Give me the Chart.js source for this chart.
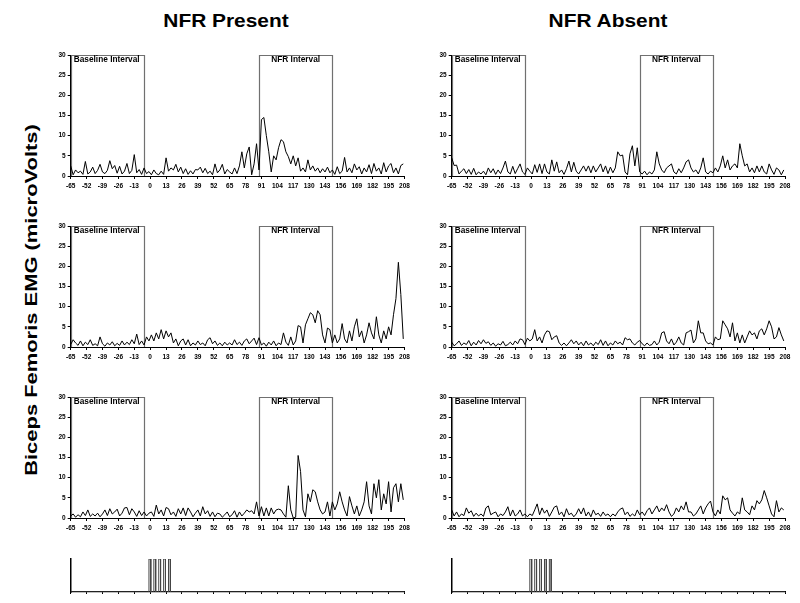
<!DOCTYPE html>
<html>
<head>
<meta charset="utf-8">
<script src="https://cdn.jsdelivr.net/npm/chart.js@4.4.1/dist/chart.umd.min.js"></script>
<style>
    html, body { margin: 0; padding: 0; background: #fff; }
    #page { position: relative; width: 800px; height: 603px; overflow: hidden; font-family: "Liberation Sans", Arial, sans-serif; color: #000; }
    #page canvas { position: absolute; }
    .title { position: absolute; top: 10.6px; font-weight: bold; font-size: 19px; line-height: 19px; white-space: nowrap; transform: translateX(-50%) scaleX(1.1); }
    #ytitle { position: absolute; left: 32.2px; top: 300px; font-weight: bold; font-size: 16px; line-height: 16px; white-space: nowrap; transform: translate(-50%, -50%) rotate(-90deg) scaleX(1.37); }
</style>
</head>
<body>
<div id="page">
    <div class="title" style="left:226px">NFR Present</div>
    <div class="title" style="left:607.5px">NFR Absent</div>
    <div id="ytitle">Biceps Femoris EMG (microVolts)</div>

    <canvas id="pTop" width="380" height="150" style="left:40px; top:45px"></canvas>
    <canvas id="aTop" width="379" height="150" style="left:421px; top:45px"></canvas>
    <canvas id="pMid" width="380" height="150" style="left:40px; top:216px"></canvas>
    <canvas id="aMid" width="379" height="150" style="left:421px; top:216px"></canvas>
    <canvas id="pBot" width="380" height="150" style="left:40px; top:387px"></canvas>
    <canvas id="aBot" width="379" height="150" style="left:421px; top:387px"></canvas>
    <canvas id="pStim" width="380" height="58" style="left:40px; top:545px"></canvas>
    <canvas id="aStim" width="379" height="58" style="left:421px; top:545px"></canvas>
</div>

<script>
// ====== Data ======
// samples every 2 units, starting at -65
const sampleStart = -65;
const sampleStep = 2;

const xRange = [-65, 208];
const xTickStep = 13;
const yRange = [0, 30];
const yTickStep = 5;

const baselineInterval = [-65, -5];
const nfrInterval = [89, 149];
const intervalLabels = ['Baseline Interval', 'NFR Interval'];

// NFR present, top
const presentTop = [
    2.5, 0.3, 1.5, 0.8, 1.2, 0.4, 3.6, 0.5, 1.0, 2.2, 0.6, 1.4, 2.9,
    1.0, 0.6, 1.4, 3.8, 1.8, 2.6, 0.7, 2.4, 0.5, 1.2, 3.1, 0.6, 1.4,
    5.3, 0.8, 1.6, 0.4, 2.0, 0.6, 1.1, 0.3, 1.5, 0.6, 0.3, 1.2, 0.4,
    4.5, 1.2, 2.0, 1.5, 2.9, 1.0, 2.2, 0.6, 1.8, 0.4, 1.3, 0.5, 1.6,
    1.5, 2.2, 0.8, 1.9, 0.6, 1.2, 0.3, 3.0, 0.8, 1.5, 2.9, 0.5, 1.6,
    1.0, 0.5, 2.0, 0.6, 2.5, 6.0, 2.0, 5.5, 7.2, 0.3, 3.0, 8.0, 1.5,
    14.0, 14.5, 10.0, 6.0, 1.0, 5.0, 4.0, 7.0, 9.0, 8.5, 6.0, 4.8, 3.0,
    5.0, 2.5, 4.5, 1.2, 2.0, 1.0, 4.0, 1.5, 2.5, 1.2, 2.0, 0.8, 1.8,
    1.0, 2.2, 0.8, 1.5, 0.4, 2.3, 0.6, 1.2, 4.6, 1.0, 2.0, 0.8, 3.0,
    1.5, 2.3, 0.5, 2.0, 1.0, 2.8, 0.6, 3.1, 1.2, 2.0, 0.5, 3.3, 1.0,
    2.5, 3.1, 0.8, 2.0, 0.5, 2.6, 3.0
];

// NFR absent, top
const absentTop = [
    4.5, 2.6, 2.7, 0.5, 1.2, 1.8, 0.6, 1.6, 0.4, 1.9, 0.3, 1.0, 0.5,
    1.2, 0.3, 2.0, 0.8, 1.8, 0.4, 1.5, 0.6, 2.0, 3.7, 1.0, 0.5, 2.4,
    0.6, 1.8, 3.0, 1.0, 0.4, 2.0, 1.2, 0.5, 2.8, 0.9, 3.0, 0.6, 3.0,
    1.0, 0.5, 4.0, 1.2, 3.5, 0.8, 1.5, 0.4, 1.8, 3.7, 1.0, 3.4, 1.2,
    0.5, 1.5, 2.5, 1.2, 2.5, 0.8, 2.5, 1.0, 2.0, 3.0, 1.0, 2.5, 0.6,
    2.2, 0.8, 2.0, 6.0, 5.0, 5.2, 1.0, 0.3, 5.5, 7.5, 2.5, 7.0, 1.0,
    0.5, 1.2, 0.3, 1.0, 0.5, 1.5, 6.0, 3.0, 1.5, 0.8, 2.0, 2.5, 3.0,
    1.0, 0.5, 1.8, 0.8, 2.0, 3.5, 4.0, 2.0, 1.0, 1.5, 0.5, 2.0, 4.5,
    1.0, 0.5, 1.2, 0.8, 2.0, 1.0, 2.5, 5.0, 2.0, 4.0, 1.5, 2.5, 3.0,
    2.0, 8.0, 5.0, 2.5, 3.0, 1.0, 2.0, 0.8, 2.5, 1.0, 2.5, 1.0, 0.5,
    3.0, 1.5, 0.4, 2.0, 1.5, 0.3, 1.5
];

// NFR present, middle
const presentMid = [
    0.6, 1.8, 1.0, 0.4, 1.5, 0.3, 1.2, 0.6, 1.8, 0.4, 0.8, 0.3, 2.5,
    0.8, 0.2, 1.0, 0.5, 1.3, 0.3, 0.9, 0.4, 1.5, 0.5, 1.2, 0.6, 1.8,
    0.8, 3.2, 0.6, 1.5, 0.5, 2.5, 1.5, 3.0, 1.5, 3.5, 2.0, 4.3, 2.0,
    4.0, 2.5, 3.5, 1.0, 2.0, 0.3, 1.5, 2.0, 0.5, 1.8, 0.3, 1.0, 0.5,
    1.5, 0.6, 1.0, 0.3, 1.8, 2.3, 0.8, 1.5, 0.4, 1.0, 0.3, 1.2, 0.5,
    1.0, 0.5, 1.8, 0.6, 1.2, 0.4, 1.5, 2.0, 0.8, 1.5, 2.2, 0.6, 2.3,
    0.5, 1.0, 0.2, 1.2, 0.5, 1.5, 0.3, 1.0, 0.6, 3.5, 1.2, 0.4, 2.5,
    0.5, 1.5, 5.3, 5.0, 1.0, 5.5, 7.0, 8.5, 8.0, 6.0, 9.0, 8.0, 3.0,
    1.0, 4.7, 4.3, 1.0, 3.0, 1.0, 2.0, 5.8, 2.0, 1.0, 4.0, 1.5, 5.0,
    7.0, 2.5, 4.0, 1.0, 3.0, 6.0, 3.5, 2.0, 7.5, 3.0, 1.0, 4.0, 2.0,
    5.0, 3.0, 8.0, 12.0, 21.0, 13.0, 2.0
];

// NFR absent, middle
const absentMid = [
    1.2, 0.3, 0.8, 1.5, 0.4, 1.0, 0.6, 1.6, 0.3, 1.2, 0.5, 1.6, 0.8,
    1.8, 0.9, 1.3, 0.4, 1.0, 0.2, 0.8, 0.5, 1.4, 0.3, 0.6, 1.2, 0.5,
    1.5, 0.8, 2.0, 1.8, 0.6, 2.2, 1.5, 2.0, 4.3, 1.5, 2.5, 1.0, 3.0,
    4.0, 3.8, 1.8, 2.5, 2.8, 1.0, 0.4, 1.0, 0.3, 1.0, 1.8, 0.8, 1.5,
    0.5, 1.2, 0.3, 1.5, 0.5, 1.0, 0.3, 1.2, 0.6, 1.8, 0.4, 1.5, 0.3,
    1.0, 0.5, 1.5, 0.8, 1.2, 0.5, 2.3, 1.8, 2.0, 1.0, 0.5, 1.2, 1.6,
    0.8, 0.3, 1.0, 0.4, 0.6, 1.5, 0.5, 1.2, 3.5, 3.8, 1.5, 0.8, 2.0,
    0.5, 1.2, 2.5, 1.0, 0.5, 3.5, 3.8, 4.2, 1.0, 2.0, 6.5, 3.5, 3.5,
    1.5, 0.8, 1.0, 0.5, 2.5, 1.8, 2.0, 6.5, 5.5, 4.5, 2.5, 6.0, 1.5,
    3.5, 1.0, 3.0, 1.0, 2.5, 4.0, 3.0, 3.5, 2.0, 4.0, 4.5, 3.0, 4.5,
    6.5, 5.0, 2.0, 2.5, 4.8, 3.0, 1.5
];

// NFR present, bottom
const presentBot = [
    0.5, 1.0, 0.2, 0.8, 0.3, 1.5, 0.6, 2.0, 0.4, 1.0, 0.5, 1.2, 0.3,
    1.0, 2.0, 0.6, 2.3, 1.0, 1.5, 2.2, 0.5, 1.2, 2.5, 2.6, 0.8, 2.3,
    1.5, 0.4, 1.8, 0.6, 1.5, 0.5, 1.2, 1.5, 0.4, 3.2, 1.0, 2.0, 0.5,
    2.6, 2.3, 0.8, 1.5, 0.4, 2.3, 1.0, 2.5, 0.6, 2.5, 1.5, 0.3, 1.2,
    2.0, 0.5, 2.8, 1.0, 1.8, 0.4, 1.5, 0.3, 1.2, 1.0, 0.2, 0.8, 1.5,
    0.3, 0.8, 1.8, 0.2, 1.5, 0.5, 1.2, 2.0, 1.5, 1.8, 1.0, 4.0, 0.5,
    2.8, 0.5, 2.5, 0.5, 2.5, 1.0, 2.0, 2.2, 2.0, 1.0, 0.2, 8.0, 2.0,
    0.0, 0.2, 15.5, 11.5, 2.0, 0.3, 6.0, 4.0, 7.0, 6.5, 4.0, 2.0, 1.0,
    1.5, 4.0, 0.5, 4.0, 2.0, 3.5, 6.5, 4.0, 2.0, 0.5, 5.3, 3.0, 1.0,
    3.0, 0.5, 2.0, 4.0, 9.0, 3.0, 1.0, 8.5, 5.0, 9.5, 2.0, 6.0, 3.5,
    9.0, 1.5, 7.5, 8.5, 4.0, 8.5, 4.5
];

// NFR absent, bottom
const absentBot = [
    2.0, 0.5, 1.5, 0.3, 1.0, 0.6, 2.5, 1.2, 1.8, 0.4, 1.2, 0.5, 1.0,
    0.4, 2.5, 3.0, 0.8, 1.2, 1.5, 0.3, 1.0, 0.6, 1.5, 2.8, 0.5, 2.0,
    0.5, 1.0, 2.0, 0.5, 1.0, 0.3, 1.0, 0.6, 2.0, 3.5, 0.8, 2.5, 1.2,
    2.0, 0.4, 1.5, 2.7, 3.0, 0.8, 1.5, 0.3, 2.3, 0.8, 1.2, 0.3, 1.0,
    2.3, 1.0, 2.5, 0.5, 1.5, 0.3, 2.0, 0.8, 1.2, 0.4, 1.5, 0.6, 1.0,
    0.3, 1.0, 0.5, 1.5, 2.2, 2.5, 0.8, 1.5, 0.4, 1.0, 0.5, 2.0, 0.8,
    1.5, 0.6, 1.8, 2.5, 1.0, 2.0, 3.0, 1.5, 2.5, 1.8, 3.3, 1.5, 0.4,
    1.0, 2.5, 1.5, 3.0, 2.0, 4.0, 1.5, 1.5, 0.5, 1.0, 2.0, 3.0, 1.0,
    2.5, 3.5, 4.2, 1.5, 0.5, 2.0, 1.0, 5.5, 4.5, 5.0, 2.0, 1.2, 0.5,
    1.5, 1.0, 5.0, 2.0, 1.5, 0.8, 3.0, 2.0, 4.3, 3.5, 4.5, 6.8, 5.0,
    3.0, 1.0, 0.3, 4.3, 1.5, 2.5, 2.0
];

// stimulus trace (5 pulses)
const stimTimes  = [-65, -1, -1, 0.5, 0.5, 3, 3, 4.5, 4.5, 7, 7, 8.5, 8.5, 11, 11, 12.5, 12.5, 15, 15, 16.5, 16.5, 208];
const stimLevels = [0,    0,  1, 1,   0,   0, 1, 1,   0,   0, 1, 1,   0,   0,  1,  1,    0,    0,  1,  1,    0,    0];

const times = presentTop.map((_, i) => sampleStart + i * sampleStep);

// ====== Chart helpers ======
const tickFont = { family: '"Liberation Sans", Arial, sans-serif', size: 6.5, weight: 'bold' };

const intervalPlugin = {
    id: 'intervals',
    beforeDraw(chart) {
        const { ctx, scales: { x, y } } = chart;
        const top = Math.round(y.getPixelForValue(yRange[1])) + 0.5;
        const bottom = y.getPixelForValue(0);
        ctx.save();
        ctx.strokeStyle = '#707070';
        ctx.lineWidth = 1.2;
        [baselineInterval, nfrInterval].forEach(([a, b]) => {
            const x0 = Math.round(x.getPixelForValue(a)) + 0.5;
            const x1 = Math.round(x.getPixelForValue(b)) + 0.5;
            ctx.beginPath();
            ctx.moveTo(x0, bottom);
            ctx.lineTo(x0, top);
            ctx.lineTo(x1, top);
            ctx.lineTo(x1, bottom);
            ctx.stroke();
        });
        ctx.fillStyle = '#000';
        ctx.font = 'bold 8.3px "Liberation Sans", Arial, sans-serif';
        ctx.textBaseline = 'middle';
        ctx.textAlign = 'left';
        ctx.fillText(intervalLabels[0], x.getPixelForValue(baselineInterval[0]) + 3, top + 4.5);
        ctx.textAlign = 'center';
        const mid = (x.getPixelForValue(nfrInterval[0]) + x.getPixelForValue(nfrInterval[1])) / 2;
        ctx.fillText(intervalLabels[1], mid, top + 4.5);
        ctx.restore();
    }
};

function makePanel(id, values, padRight) {
    const points = values.map((v, i) => ({ x: times[i], y: v }));
    return new Chart(document.getElementById(id), {
        type: 'line',
        data: { datasets: [{ data: points, borderColor: '#000', borderWidth: 1, pointRadius: 0, tension: 0, fill: false }] },
        options: {
            animation: false, responsive: false, devicePixelRatio: 1,
            layout: { padding: { top: 10, right: padRight, left: 0, bottom: 0 } },
            plugins: { legend: { display: false }, tooltip: { enabled: false } },
            scales: {
                x: {
                    type: 'linear', min: xRange[0], max: xRange[1],
                    afterFit: s => { s.height = 19; },
                    ticks: { stepSize: xTickStep, autoSkip: false, maxRotation: 0, font: tickFont, color: '#000', padding: 3 },
                    grid: { drawOnChartArea: false, tickLength: 3, color: '#000' },
                    border: { color: '#000', width: 1 }
                },
                y: {
                    min: yRange[0], max: yRange[1],
                    afterFit: s => { s.width = 30.7; },
                    ticks: { stepSize: yTickStep, font: tickFont, color: '#000', padding: 2 },
                    grid: { drawOnChartArea: false, tickLength: 3, color: '#000' },
                    border: { color: '#000', width: 1 }
                }
            }
        },
        plugins: [intervalPlugin]
    });
}

function makeStim(id, padRight) {
    const points = stimTimes.map((t, i) => ({ x: t, y: stimLevels[i] }));
    return new Chart(document.getElementById(id), {
        type: 'line',
        data: { datasets: [{ data: points, borderColor: '#444', borderWidth: 1, pointRadius: 0, tension: 0, fill: false }] },
        options: {
            animation: false, responsive: false, devicePixelRatio: 1,
            layout: { padding: { top: 14, right: padRight, left: 0, bottom: 0 } },
            plugins: { legend: { display: false }, tooltip: { enabled: false } },
            scales: {
                x: {
                    type: 'linear', min: xRange[0], max: xRange[1],
                    afterFit: s => { s.height = 11; },
                    ticks: { stepSize: xTickStep, autoSkip: false, display: false },
                    grid: { drawOnChartArea: false, tickLength: 2, color: '#000' },
                    border: { color: '#000', width: 1.2 }
                },
                y: {
                    min: 0, max: 1,
                    afterFit: s => { s.width = 30.7; },
                    ticks: { display: false },
                    grid: { display: false },
                    border: { color: '#000', width: 1.5 }
                }
            }
        }
    });
}

makePanel('pTop', presentTop, 15.5);
makePanel('aTop', absentTop, 15);
makePanel('pMid', presentMid, 15.5);
makePanel('aMid', absentMid, 15);
makePanel('pBot', presentBot, 15.5);
makePanel('aBot', absentBot, 15);
makeStim('pStim', 15.5);
makeStim('aStim', 15);
</script>
</body>
</html>
